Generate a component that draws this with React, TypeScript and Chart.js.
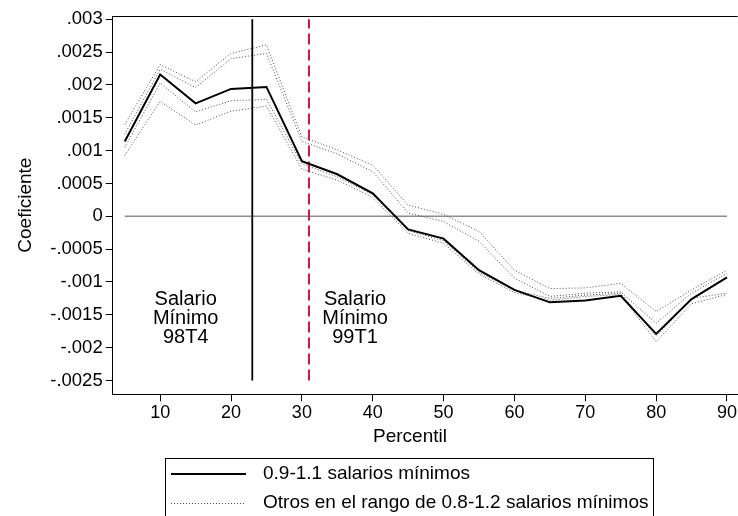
import React, { useEffect, useRef } from 'react';
import { Chart, registerables } from 'chart.js';

Chart.register(...registerables);

// ---- data ----
const percentiles = [5, 10, 15, 20, 25, 30, 35, 40, 45, 50, 55, 60, 65, 70, 75, 80, 85, 90];
const mainSeries = [0.00114, 0.00216, 0.00172, 0.00194, 0.00197, 0.00084, 0.00064, 0.00035, -0.0002, -0.00034, -0.00082, -0.00112, -0.00131, -0.00128, -0.00121, -0.00179, -0.00126, -0.00093];
const otherA = [0.0014, 0.00231, 0.00205, 0.00248, 0.00261, 0.00121, 0.00101, 0.00078, 0.00017, 0.00003, -0.00023, -0.00082, -0.0011, -0.00109, -0.00102, -0.00145, -0.00112, -0.00082];
const otherB = [0.00125, 0.00224, 0.00196, 0.0024, 0.00248, 0.00114, 0.00095, 0.00068, 0.00005, -0.00008, -0.00038, -0.00094, -0.00122, -0.00117, -0.00115, -0.00163, -0.00117, -0.00087];
const otherC = [0.00105, 0.00203, 0.00159, 0.00176, 0.00178, 0.0008, 0.0006, 0.00033, -0.00022, -0.00037, -0.00085, -0.00113, -0.00125, -0.0012, -0.00117, -0.00183, -0.00125, -0.00117];
const otherD = [0.00093, 0.00175, 0.00139, 0.0016, 0.00168, 0.00072, 0.00055, 0.00029, -0.00026, -0.00041, -0.00088, -0.00116, -0.00128, -0.00122, -0.00119, -0.00191, -0.00133, -0.00119];

const yTicks = [-0.0025, -0.002, -0.0015, -0.001, -0.0005, 0, 0.0005, 0.001, 0.0015, 0.002, 0.0025, 0.003];
const xTicks = [10, 20, 30, 40, 50, 60, 70, 80, 90];

const zeroLineX = [5, 90];
const minWage98X = 23;
const minWage99X = 31;
const vLineRange = [-0.0025, 0.003];

const note98 = ['Salario', 'Mínimo', '98T4'];
const note99 = ['Salario', 'Mínimo', '99T1'];
const noteX98 = 13.6;
const noteX99 = 37.5;
const noteY = -0.00156;

const xTitle = 'Percentil';
const yTitle = 'Coeficiente';
const legendLabels = ['0.9-1.1 salarios mínimos', 'Otros en el rango de 0.8-1.2 salarios mínimos'];

const FONT = '"Liberation Sans", Arial, Helvetica, sans-serif';
const DOT_COLOR = '#4a4a4a';

const toPoints = (ys: number[]) => ys.map((y, i) => ({ x: percentiles[i], y }));

const fmtY = (v: number) => {
  if (Math.abs(v) < 1e-12) return '0';
  const s = Math.abs(v).toFixed(4).replace(/0+$/, '').replace(/^0/, '');
  return (v < 0 ? '-' : '') + s;
};

const overlayPlugin = {
  id: 'overlay',
  afterDraw(chart: any) {
    const { ctx, chartArea, scales } = chart;
    const xs = scales.x;
    const ys = scales.y;
    ctx.save();
    // top border of plot region
    ctx.strokeStyle = '#000';
    ctx.lineWidth = 1;
    ctx.beginPath();
    ctx.moveTo(chartArea.left, Math.round(chartArea.top) + 0.5);
    ctx.lineTo(chartArea.right, Math.round(chartArea.top) + 0.5);
    ctx.stroke();

    // notes
    ctx.fillStyle = '#000';
    ctx.font = `20px ${FONT}`;
    ctx.textAlign = 'center';
    ctx.textBaseline = 'middle';
    const lh = 19;
    const drawNote = (lines: string[], xv: number) => {
      const cx = xs.getPixelForValue(xv);
      const cy = ys.getPixelForValue(noteY);
      lines.forEach((t, i) => ctx.fillText(t, cx, cy + (i - 1) * lh));
    };
    drawNote(note98, noteX98);
    drawNote(note99, noteX99);

    // x-axis title
    ctx.font = `19px ${FONT}`;
    ctx.fillText(xTitle, 410, 437);

    // legend
    const bx = 165.5, by = 458.5, bw = 488, bh = 80;
    ctx.strokeStyle = '#000';
    ctx.lineWidth = 1;
    ctx.strokeRect(bx, by, bw, bh);
    const rows = [474, 503];
    ctx.beginPath();
    ctx.lineWidth = 1.8;
    ctx.strokeStyle = '#000';
    ctx.moveTo(171, rows[0]);
    ctx.lineTo(246, rows[0]);
    ctx.stroke();
    ctx.beginPath();
    ctx.lineWidth = 1;
    ctx.strokeStyle = DOT_COLOR;
    ctx.setLineDash([1, 2]);
    ctx.moveTo(171, rows[1] + 0.5);
    ctx.lineTo(246, rows[1] + 0.5);
    ctx.stroke();
    ctx.setLineDash([]);
    ctx.font = `19px ${FONT}`;
    ctx.textAlign = 'left';
    ctx.fillStyle = '#000';
    legendLabels.forEach((t, i) => ctx.fillText(t, 263, rows[i]));
    ctx.restore();
  },
};

export default function App() {
  const ref = useRef<HTMLCanvasElement | null>(null);
  useEffect(() => {
    if (!ref.current) return;
    const dotted = (ys: number[]) => ({
      data: toPoints(ys),
      borderColor: DOT_COLOR,
      borderWidth: 1,
      borderDash: [1, 2],
      pointRadius: 0,
      fill: false,
      tension: 0,
    });
    const chart = new Chart(ref.current, {
      type: 'line',
      data: {
        datasets: [
          {
            label: legendLabels[0],
            data: toPoints(mainSeries),
            borderColor: '#000',
            borderWidth: 2,
            pointRadius: 0,
            fill: false,
            tension: 0,
          },
          {
            data: vLineRange.map((y) => ({ x: minWage98X, y })),
            borderColor: '#000',
            borderWidth: 1.8,
            pointRadius: 0,
          },
          {
            data: vLineRange.map((y) => ({ x: minWage99X, y })),
            borderColor: '#C8154A',
            borderWidth: 2,
            borderDash: [11, 5],
            pointRadius: 0,
          },
          { label: legendLabels[1], ...dotted(otherA) },
          dotted(otherB),
          dotted(otherC),
          dotted(otherD),
          {
            data: zeroLineX.map((x) => ({ x, y: 0 })),
            borderColor: '#8c8c8c',
            borderWidth: 1.6,
            pointRadius: 0,
          },
        ] as any,
      },
      options: {
        animation: false,
        responsive: false,
        devicePixelRatio: 1,
        layout: { padding: { left: 0, right: 0, top: 16, bottom: 0 } },
        plugins: { legend: { display: false }, tooltip: { enabled: false } },
        scales: {
          x: {
            type: 'linear',
            min: 3.3,
            max: 91.5,
            afterBuildTicks: (s: any) => {
              s.ticks = xTicks.map((v) => ({ value: v }));
            },
            afterFit: (s: any) => {
              s.height = 121.7;
            },
            grid: { display: true, drawOnChartArea: false, drawTicks: true, tickLength: 7, color: '#000' },
            border: { display: true, color: '#000', width: 1 },
            ticks: { color: '#000', font: { family: FONT, size: 18 }, padding: 1, maxRotation: 0, autoSkip: false },
            title: { display: false },
          },
          y: {
            type: 'linear',
            min: -0.00271,
            max: 0.00305,
            afterBuildTicks: (s: any) => {
              s.ticks = yTicks.map((v) => ({ value: v }));
            },
            afterFit: (s: any) => {
              s.width = 112.7;
            },
            grid: { display: true, drawOnChartArea: false, drawTicks: true, tickLength: 7, color: '#000' },
            border: { display: true, color: '#000', width: 1 },
            ticks: { color: '#000', font: { family: FONT, size: 18.5 }, padding: 3, callback: (v: any) => fmtY(Number(v)) },
            title: { display: true, text: yTitle, color: '#000', font: { family: FONT, size: 19 }, padding: { top: 14, bottom: 0 } },
          },
        },
      } as any,
      plugins: [overlayPlugin],
    });
    return () => chart.destroy();
  }, []);
  return (
    <div style={{ position: 'absolute', left: 0, top: 0, width: 738, height: 516, background: '#fff' }}>
      <canvas ref={ref} width={738} height={516} />
    </div>
  );
}
